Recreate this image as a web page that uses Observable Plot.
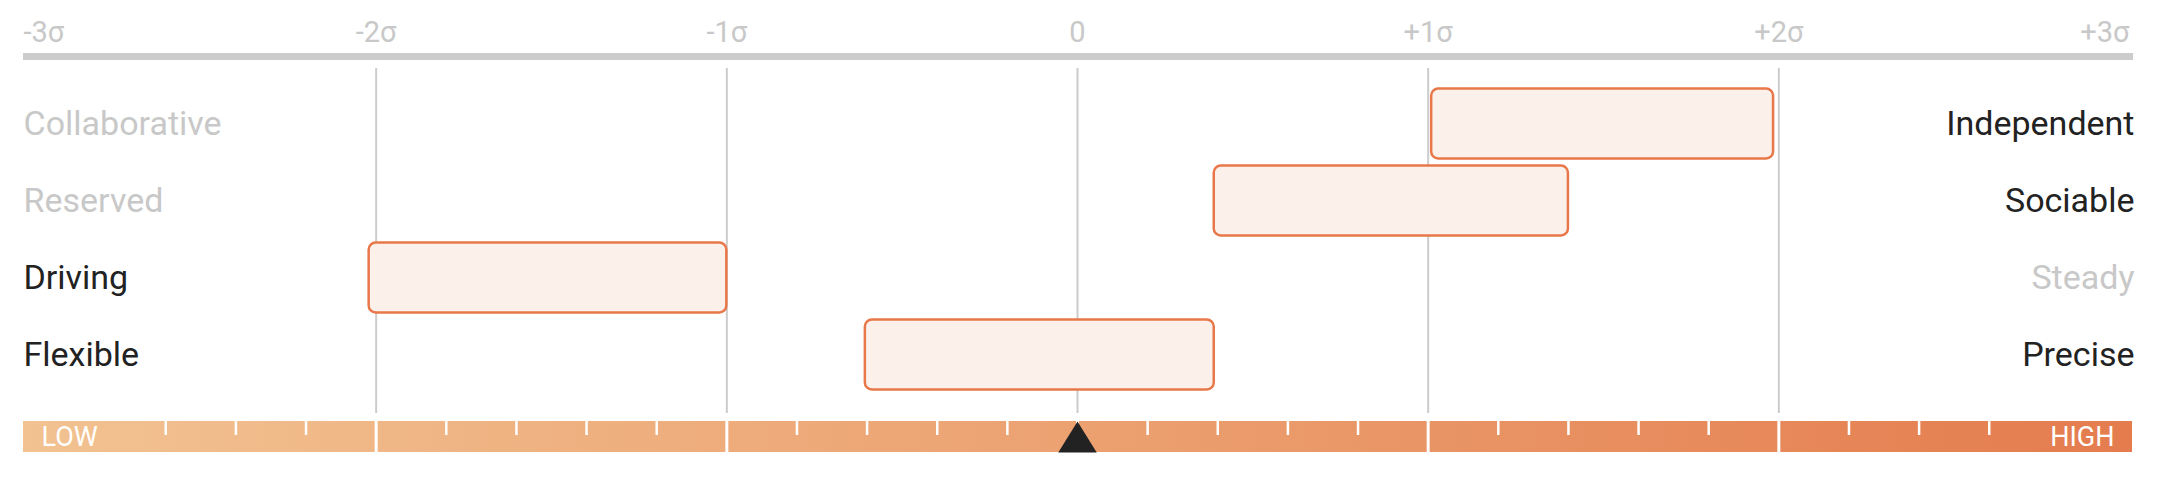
<!DOCTYPE html>
<html>
<head>
<meta charset="utf-8">
<script src="https://cdn.jsdelivr.net/npm/d3@7"></script>
<script src="https://cdn.jsdelivr.net/npm/@observablehq/plot@0.6"></script>
<style>
  html, body { margin: 0; padding: 0; background: #fff; }
  #chart svg { display: block; }
</style>
</head>
<body>
<div id="chart"></div>
<script>
// ---- data ----
const sigmaTicks = [-3, -2, -1, 0, 1, 2, 3];
const sigmaLabels = ["-3σ", "-2σ", "-1σ", "0", "+1σ", "+2σ", "+3σ"];
const leftTraits = ["Collaborative", "Reserved", "Driving", "Flexible"];
const rightTraits = ["Independent", "Sociable", "Steady", "Precise"];
const leftEmphasis = [false, false, true, true];
const rightEmphasis = [true, true, false, true];
const rangeLow = [1.01, 0.39, -2.02, -0.605];
const rangeHigh = [1.985, 1.40, -1.00, 0.39];
const gridValues = [-2, -1, 0, 1, 2];
const minorTicks = [-2.6, -2.4, -2.2, -1.8, -1.6, -1.4, -1.2, -0.8, -0.6, -0.4, -0.2,
                    0.2, 0.4, 0.6, 0.8, 1.2, 1.4, 1.6, 1.8, 2.2, 2.4, 2.6];
const markerValue = [0];
const scaleEndLabels = ["LOW", "HIGH"];

// ---- styles ----
const W = 2164;
const FONT = "Roboto, 'Noto Sans', sans-serif";
const GREY_TEXT = "#c8c8c8";
const DARK_TEXT = "#222222";
const xOpts = {domain: [-3, 3], axis: null};
const common = {width: W, marginLeft: 25, marginRight: 35, x: xOpts, style: {fontFamily: FONT, background: "white", overflow: "visible"}};

const ticks = sigmaTicks.map((v, i) => ({v, label: sigmaLabels[i], i}));
const rows = leftTraits.map((t, i) => ({
  left: t, right: rightTraits[i], lowE: leftEmphasis[i], highE: rightEmphasis[i],
  lo: rangeLow[i], hi: rangeHigh[i]
}));

// ---- top axis ----
const tickText = {x: "v", text: "label", frameAnchor: "top", lineAnchor: "bottom", dy: -3, fill: GREY_TEXT, fontSize: 29};
const topPlot = Plot.plot({
  ...common,
  height: 68,
  marginTop: 44,
  marginBottom: 0,
  marks: [
    Plot.ruleY([null], {y: null, x1: -3, x2: 3, insetLeft: -2, insetRight: -4, stroke: "#cccccc", strokeWidth: 7}),
    Plot.text(ticks.filter(d => d.i === 0), {...tickText, textAnchor: "start", dx: -2}),
    Plot.text(ticks.filter(d => d.i > 0 && d.i < ticks.length - 1), {...tickText, textAnchor: "middle"}),
    Plot.text(ticks.filter(d => d.i === ticks.length - 1), {...tickText, textAnchor: "end"})
  ]
});

// ---- main rows ----
const mainPlot = Plot.plot({
  ...common,
  height: 345,
  marginTop: 0,
  marginBottom: 0,
  y: {domain: leftTraits, axis: null, paddingInner: 0, paddingOuter: 0.24, align: 0.446},
  marks: [
    Plot.ruleX(gridValues, {stroke: "#cccccc", strokeWidth: 2}),
    Plot.barX(rows, {x1: "lo", x2: "hi", y: "left", fill: "#fcf0eb", stroke: "#e8784a", strokeWidth: 2.5, rx: 7, insetTop: 3.5, insetBottom: 3.5}),
    Plot.text(rows, {y: "left", text: "left", frameAnchor: "left", textAnchor: "start", dx: -2, fill: d => d.lowE ? DARK_TEXT : GREY_TEXT, fontSize: 34}),
    Plot.text(rows, {y: "left", text: "right", frameAnchor: "right", textAnchor: "end", dx: 5, fill: d => d.highE ? DARK_TEXT : GREY_TEXT, fontSize: 34})
  ]
});

// ---- bottom gradient scale ----
const gradientDefs = () => {
  const defs = d3.create("svg:defs");
  const g = defs.append("linearGradient").attr("id", "scaleGrad").attr("x1", "0%").attr("x2", "100%").attr("y1", "0%").attr("y2", "0%");
  g.append("stop").attr("offset", "0%").attr("stop-color", "#f2c291");
  g.append("stop").attr("offset", "50%").attr("stop-color", "#eca171");
  g.append("stop").attr("offset", "100%").attr("stop-color", "#e47c4e");
  return defs.node();
};
const triangleSymbol = {
  draw(context, size) {
    const h = Math.sqrt(size);
    context.moveTo(0, 0);
    context.lineTo(-0.62 * h, h);
    context.lineTo(0.62 * h, h);
    context.closePath();
  }
};
const bottomPlot = Plot.plot({
  ...common,
  height: 79,
  marginTop: 8,
  marginBottom: 40,
  marks: [
    gradientDefs,
    Plot.barX([{a: -3, b: 3}], {x1: "a", x2: "b", insetLeft: -2, insetRight: -3, fill: "url(#scaleGrad)"}),
    Plot.ruleX(gridValues, {stroke: "white", strokeWidth: 3}),
    Plot.ruleX(minorTicks, {stroke: "white", strokeWidth: 2.5, insetBottom: 17}),
    Plot.dot(markerValue, {x: d => d, frameAnchor: "top", symbol: triangleSymbol, r: 31 / Math.sqrt(Math.PI), fill: DARK_TEXT, stroke: "none"}),
    Plot.text([scaleEndLabels[0]], {text: d => d, frameAnchor: "left", textAnchor: "start", dx: 16, fill: "white", fontSize: 27}),
    Plot.text([scaleEndLabels[1]], {text: d => d, frameAnchor: "right", textAnchor: "end", dx: -15, fill: "white", fontSize: 27})
  ]
});

const chart = document.getElementById("chart");
chart.append(topPlot, mainPlot, bottomPlot);
</script>
</body>
</html>
